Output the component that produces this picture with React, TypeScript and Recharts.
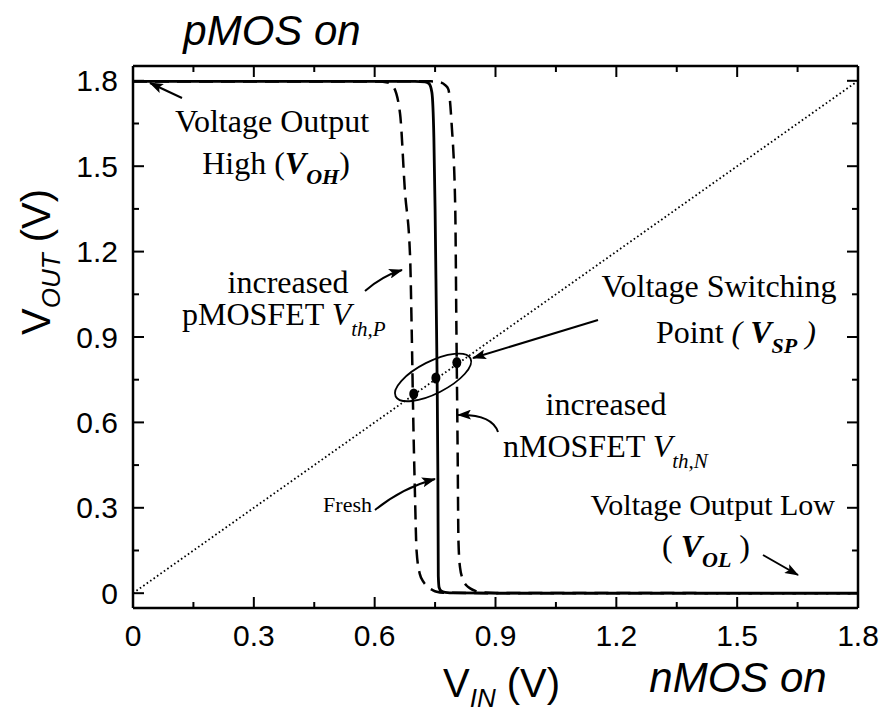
import React from "react";
import { ComposedChart, Line, Scatter, XAxis, YAxis } from "recharts";

// axis ticks
const majorTicks = [0, 0.3, 0.6, 0.9, 1.2, 1.5, 1.8];
const minorTicks = [0.15, 0.45, 0.75, 1.05, 1.35, 1.65];
const tickLabels = ["0", "0.3", "0.6", "0.9", "1.2", "1.5", "1.8"];

// fresh inverter (solid)
const freshVin = [0, 0.7, 0.725, 0.735, 0.742, 0.747, 0.75, 0.753, 0.755, 0.757, 0.758, 0.76, 0.765, 0.775, 0.8, 0.9, 1.8];
const freshVout = [1.798, 1.798, 1.796, 1.79, 1.76, 1.6, 1.35, 1.0, 0.76, 0.4, 0.06, 0.02, 0.008, 0.003, 0.001, 0, 0];

// increased pMOSFET Vth (left dashed)
const pmosVin = [0, 0.6, 0.632, 0.646, 0.663, 0.675, 0.688, 0.692, 0.696, 0.7, 0.704, 0.712, 0.722, 0.733, 0.745, 0.754, 0.77, 0.9, 1.8];
const pmosVout = [1.798, 1.798, 1.794, 1.78, 1.685, 1.415, 1.18, 0.92, 0.6, 0.35, 0.15, 0.068, 0.038, 0.021, 0.01, 0.005, 0.002, 0, 0];

// increased nMOSFET Vth (right dashed)
const nmosVin = [0, 0.74, 0.762, 0.775, 0.783, 0.791, 0.8, 0.803, 0.806, 0.808, 0.812, 0.82, 0.828, 0.837, 0.85, 0.87, 0.9, 1.8];
const nmosVout = [1.798, 1.798, 1.795, 1.785, 1.77, 1.65, 1.357, 0.92, 0.5, 0.185, 0.09, 0.045, 0.027, 0.017, 0.008, 0.003, 0.001, 0];

// Vin = Vout reference
const diagVin = [0, 1.8];
const diagVout = [0, 1.8];

// switching points
const spVin = [0.697, 0.752, 0.804];
const spVout = [0.7, 0.756, 0.81];

const ringVin = [0.745];
const ringVout = [0.758];

const toPts = (xs: number[], ys: number[]) => xs.map((x, i) => ({ x, y: ys[i] }));

const fresh = toPts(freshVin, freshVout);
const pmos = toPts(pmosVin, pmosVout);
const nmos = toPts(nmosVin, nmosVout);
const diag = toPts(diagVin, diagVout);
const sp = toPts(spVin, spVout);
const ring = toPts(ringVin, ringVout);

const allTicks = [...majorTicks, ...minorTicks].sort((a, b) => a - b);

const SANS = "'Liberation Sans', Arial, sans-serif";
const SERIF = "'Liberation Serif', 'Times New Roman', serif";

const tickLen = (v: number) => (majorTicks.indexOf(v) >= 0 ? 11 : 6);

function BottomTick(props: any) {
  const { x, y, payload } = props;
  const i = majorTicks.indexOf(payload.value);
  return (
    <g>
      <line x1={x} y1={y} x2={x} y2={y - tickLen(payload.value)} stroke="#000" strokeWidth={2} />
      {i >= 0 && (
        <text x={x} y={y + 38} textAnchor="middle" fontFamily={SANS} fontSize={30} fill="#000">
          {tickLabels[i]}
        </text>
      )}
    </g>
  );
}

function TopTick(props: any) {
  const { x, y, payload } = props;
  return <line x1={x} y1={y} x2={x} y2={y + tickLen(payload.value)} stroke="#000" strokeWidth={2} />;
}

function LeftTick(props: any) {
  const { x, y, payload } = props;
  const i = majorTicks.indexOf(payload.value);
  return (
    <g>
      <line x1={x} y1={y} x2={x + tickLen(payload.value)} y2={y} stroke="#000" strokeWidth={2} />
      {i >= 0 && (
        <text x={x - 15} y={y + 10.5} textAnchor="end" fontFamily={SANS} fontSize={30} fill="#000">
          {tickLabels[i]}
        </text>
      )}
    </g>
  );
}

function RightTick(props: any) {
  const { x, y, payload } = props;
  return <line x1={x} y1={y} x2={x - tickLen(payload.value)} y2={y} stroke="#000" strokeWidth={2} />;
}

const SpDot = (props: any) => <ellipse cx={props.cx} cy={props.cy} rx={4.5} ry={5.5} fill="#000" />;

const Ring = (props: any) => (
  <ellipse
    cx={props.cx}
    cy={props.cy}
    rx={42}
    ry={16}
    fill="none"
    stroke="#000"
    strokeWidth={1.8}
    transform={`rotate(-27 ${props.cx} ${props.cy})`}
  />
);

function Annotations() {
  const arrow = { stroke: "#000", strokeWidth: 2, fill: "none", markerEnd: "url(#ah)" };
  return (
    <svg
      width={882}
      height={715}
      style={{ position: "absolute", left: 0, top: 0, pointerEvents: "none" }}
    >
      <defs>
        <marker id="ah" markerUnits="userSpaceOnUse" markerWidth={14} markerHeight={10} refX={13} refY={5} orient="auto">
          <path d="M0,0 L14,5 L0,10 L3,5 z" fill="#000" />
        </marker>
      </defs>

      <text x={272} y={45} textAnchor="middle" fontFamily={SANS} fontStyle="italic" fontSize={42}>pMOS on</text>
      <text x={738} y={692} textAnchor="middle" fontFamily={SANS} fontStyle="italic" fontSize={42}>nMOS on</text>

      {/* axis titles */}
      <text x={443} y={697} fontFamily={SANS} fontSize={40}>
        V<tspan fontSize={26} fontStyle="italic" dy={10}>IN</tspan>
        <tspan dy={-10}> (V)</tspan>
      </text>
      <text x={50} y={262} textAnchor="middle" fontFamily={SANS} fontSize={40} transform="rotate(-90 50 262)">
        V<tspan fontSize={26} fontStyle="italic" dy={10}>OUT</tspan>
        <tspan dy={-10}> (V)</tspan>
      </text>

      <g fontFamily={SERIF} fontSize={32} fill="#000">
        <text x={272} y={132} textAnchor="middle">Voltage Output</text>
        <text x={276} y={174} textAnchor="middle">
          High (<tspan fontStyle="italic" fontWeight="bold">V</tspan>
          <tspan fontStyle="italic" fontWeight="bold" fontSize={22} dy={10}>OH</tspan>
          <tspan dy={-10}>)</tspan>
        </text>

        <text x={288} y={293} textAnchor="middle">increased</text>
        <text x={182} y={325}>
          pMOSFET <tspan fontStyle="italic">V</tspan>
          <tspan fontStyle="italic" fontSize={21} dy={11}>th,P</tspan>
        </text>

        <text x={719} y={297} textAnchor="middle">Voltage Switching</text>
        <text x={736} y={343} textAnchor="middle">
          Point <tspan fontStyle="italic">(</tspan> <tspan fontStyle="italic" fontWeight="bold">V</tspan>
          <tspan fontStyle="italic" fontWeight="bold" fontSize={22} dy={10}>SP</tspan>
          <tspan dy={-10} fontStyle="italic"> )</tspan>
        </text>

        <text x={606} y={415} textAnchor="middle">increased</text>
        <text x={503} y={457}>
          nMOSFET <tspan fontStyle="italic">V</tspan>
          <tspan fontStyle="italic" fontSize={21} dy={11}>th,N</tspan>
        </text>

        <text x={372} y={512} textAnchor="end" fontSize={22}>Fresh</text>

        <text x={835} y={515} textAnchor="end" fontSize={30}>Voltage Output Low</text>
        <text x={706} y={557} textAnchor="middle">
          ( <tspan fontStyle="italic" fontWeight="bold">V</tspan>
          <tspan fontStyle="italic" fontWeight="bold" fontSize={22} dy={10}>OL</tspan>
          <tspan dy={-10}> )</tspan>
        </text>
      </g>

      <path d="M182,98 L150,83" {...arrow} />
      <path d="M365,291 Q382,276 402,270" {...arrow} />
      <path d="M598,320 L473,358" {...arrow} />
      <path d="M498,432 Q492,414 458,415" {...arrow} />
      <path d="M375,510 Q402,488 435,479" {...arrow} />
      <path d="M763,555 L798,575" {...arrow} />
    </svg>
  );
}

export default function App() {
  const yDomain = [-0.052, 1.852];
  const frame = { stroke: "#000", strokeWidth: 2.5 };
  return (
    <div style={{ position: "absolute", left: 0, top: 0, width: 882, height: 715, background: "#fff" }}>
      <ComposedChart width={882} height={715} margin={{ top: 65, right: 23, bottom: 106, left: 132 }}>
        <XAxis
          xAxisId="bottom"
          dataKey="x"
          type="number"
          domain={[0, 1.8]}
          ticks={allTicks}
          interval={0}
          height={1}
          tickSize={0}
          tickMargin={0}
          tickLine={false}
          tick={<BottomTick />}
          axisLine={frame}
          allowDataOverflow
        />
        <XAxis
          xAxisId="top"
          orientation="top"
          dataKey="x"
          type="number"
          domain={[0, 1.8]}
          ticks={allTicks}
          interval={0}
          height={1}
          tickSize={0}
          tickMargin={0}
          tickLine={false}
          tick={<TopTick />}
          axisLine={frame}
          allowDataOverflow
        />
        <YAxis
          yAxisId="left"
          dataKey="y"
          type="number"
          domain={yDomain}
          ticks={allTicks}
          interval={0}
          width={1}
          tickSize={0}
          tickMargin={0}
          tickLine={false}
          tick={<LeftTick />}
          axisLine={frame}
          allowDataOverflow
        />
        <YAxis
          yAxisId="right"
          orientation="right"
          dataKey="y"
          type="number"
          domain={yDomain}
          ticks={allTicks}
          interval={0}
          width={1}
          tickSize={0}
          tickMargin={0}
          tickLine={false}
          tick={<RightTick />}
          axisLine={frame}
          allowDataOverflow
        />

        <Line
          xAxisId="bottom"
          yAxisId="left"
          data={diag}
          dataKey="y"
          type="linear"
          stroke="#000"
          strokeWidth={1.8}
          strokeDasharray="1.6 2.6"
          dot={false}
          activeDot={false}
          isAnimationActive={false}
        />
        <Line
          xAxisId="bottom"
          yAxisId="left"
          data={pmos}
          dataKey="y"
          type="monotone"
          stroke="#000"
          strokeWidth={2.5}
          strokeDasharray="14 8"
          dot={false}
          activeDot={false}
          isAnimationActive={false}
        />
        <Line
          xAxisId="bottom"
          yAxisId="left"
          data={nmos}
          dataKey="y"
          type="monotone"
          stroke="#000"
          strokeWidth={2.5}
          strokeDasharray="14 8"
          dot={false}
          activeDot={false}
          isAnimationActive={false}
        />
        <Line
          xAxisId="bottom"
          yAxisId="left"
          data={fresh}
          dataKey="y"
          type="monotone"
          stroke="#000"
          strokeWidth={2.8}
          dot={false}
          activeDot={false}
          isAnimationActive={false}
        />
        <Scatter xAxisId="bottom" yAxisId="left" data={sp} dataKey="y" shape={<SpDot />} isAnimationActive={false} />
        <Scatter xAxisId="bottom" yAxisId="left" data={ring} dataKey="y" shape={<Ring />} isAnimationActive={false} />
      </ComposedChart>
      <Annotations />
    </div>
  );
}
